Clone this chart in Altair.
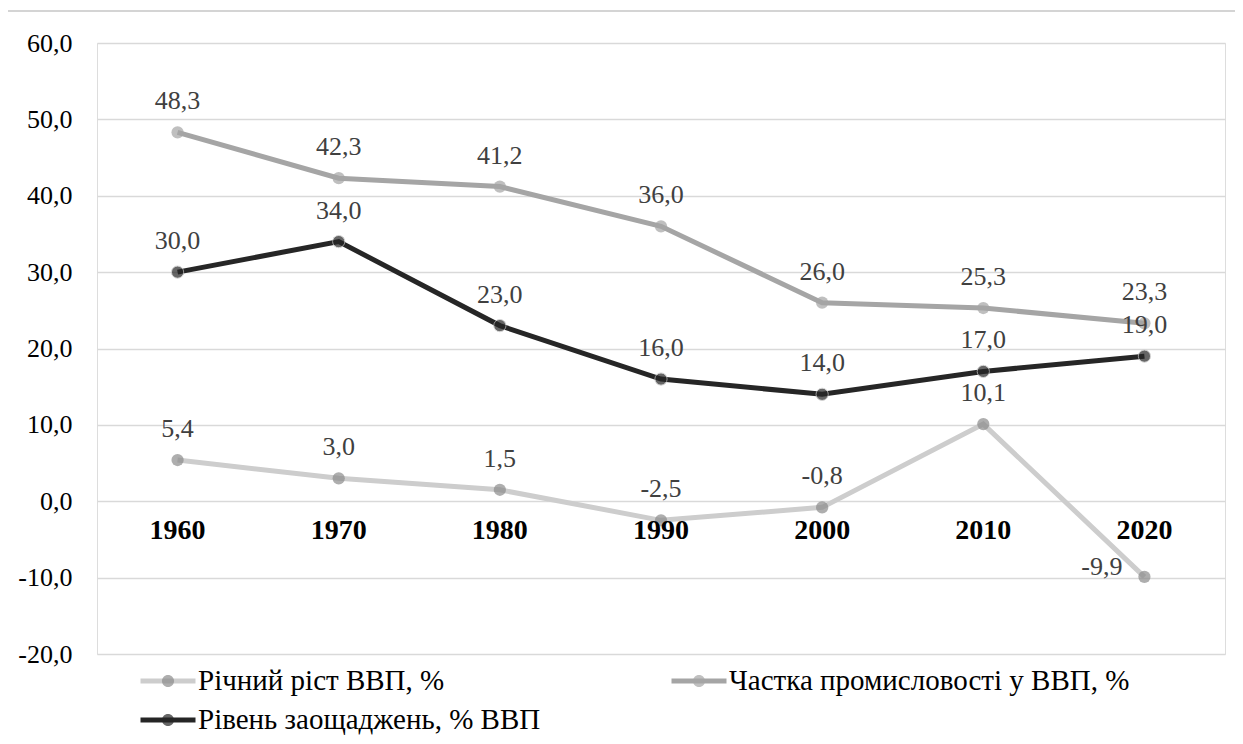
import altair as alt
import pandas as pd

years = ["1960", "1970", "1980", "1990", "2000", "2010", "2020"]
gdp_growth = [5.4, 3.0, 1.5, -2.5, -0.8, 10.1, -9.9]
industry_share = [48.3, 42.3, 41.2, 36.0, 26.0, 25.3, 23.3]
savings_rate = [30.0, 34.0, 23.0, 16.0, 14.0, 17.0, 19.0]
series_names = ["Річний ріст ВВП, %", "Частка промисловості у ВВП, %", "Рівень заощаджень, % ВВП"]
y_ticks = [-20, -10, 0, 10, 20, 30, 40, 50, 60]

line_colors = ["#cdcdcd", "#a5a5a5", "#262626"]
marker_colors = ["#8c8c8c", "#a5a5a5", "#262626"]

rows = []
for name, vals in zip(series_names, [gdp_growth, industry_share, savings_rate]):
    for yr, v in zip(years, vals):
        rows.append({"year": yr, "series": name, "series_m": name, "value": v})
df = pd.DataFrame(rows)
years_df = pd.DataFrame({"year": years})

FONT = "Liberation Serif"
W, H = 1128, 611
FMT = "replace(replace(format(datum.value, '.1f'), '.', ','), '\u2212', '-')"

xenc = alt.X("year:N", sort=years, scale=alt.Scale(type="point", padding=0.5), axis=None)
yenc = alt.Y(
    "value:Q",
    scale=alt.Scale(domain=[-20, 60], nice=False, zero=False),
    axis=alt.Axis(
        values=y_ticks, title=None, domain=False, ticks=False,
        labelExpr=FMT,
        labelFont=FONT, labelFontSize=26, labelColor="#000000", labelPadding=25,
        grid=True, gridColor="#d9d9d9", gridWidth=1.5,
    ),
)

base = alt.Chart(df)

frame = alt.Chart(years_df).mark_rect(
    fill="transparent", stroke="#d4d4d4", strokeWidth=2, clip=False
).encode(x=alt.value(-90), x2=alt.value(1400), y=alt.value(-32), y2=alt.value(1000))

line_symbol = "M-1,0L1,0"
circle_symbol = "M0.22,0A0.22,0.22,0,1,1,-0.22,0A0.22,0.22,0,1,1,0.22,0"

legend_common = dict(
    title=None, orient="none", direction="horizontal", legendX=41, legendY=622, columns=2,
    columnPadding=128, rowPadding=7, padding=0, symbolSize=3025, clipHeight=32,
    labelFont=FONT, labelFontSize=29, labelOffset=0,
    labelLimit=0,
)

lines = base.mark_line(strokeWidth=5).encode(
    x=xenc, y=yenc,
    color=alt.Color(
        "series:N", scale=alt.Scale(domain=series_names, range=line_colors),
        legend=alt.Legend(symbolType=line_symbol, symbolStrokeWidth=5,
                          labelColor="#000000", **legend_common),
    ),
)

points = base.mark_point(filled=True, size=150, strokeWidth=1, stroke="#c8c8c8").encode(
    x=xenc, y=yenc,
    fill=alt.Fill(
        "series_m:N", sort=series_names, scale=alt.Scale(range=marker_colors),
        legend=alt.Legend(symbolType=circle_symbol, symbolStrokeWidth=5,
                          symbolStrokeColor="transparent", labelOpacity=0,
                          labelColor="#000000", **legend_common),
    ),
    strokeOpacity=alt.condition(alt.datum.series == series_names[2], alt.value(1), alt.value(0)),
)

labels = base.transform_filter(
    ~((alt.datum.year == "2020") & (alt.datum.series == series_names[0]))
).transform_calculate(
    label=FMT
).mark_text(font=FONT, fontSize=26, color="#404040", dy=-31).encode(
    x=xenc, y=yenc, text="label:N"
)

label_side = base.transform_filter(
    (alt.datum.year == "2020") & (alt.datum.series == series_names[0])
).transform_calculate(
    label=FMT
).mark_text(font=FONT, fontSize=26, color="#404040", align="right", dx=-22, dy=-10).encode(
    x=xenc, y=yenc, text="label:N"
)

year_labels = alt.Chart(years_df).mark_text(
    font=FONT, fontSize=28, fontWeight="bold", color="#000000", dy=30
).encode(x=xenc, y=alt.datum(0), text="year:N")

chart = alt.layer(frame, lines, points, labels, label_side, year_labels).properties(
    width=W, height=H,
    autosize=alt.AutoSizeParams(type="none"),
    padding={"left": 89, "top": 35, "right": 10, "bottom": 82},
).resolve_scale(
    color="independent", fill="independent"
).resolve_legend(
    color="independent", fill="independent"
).configure_view(stroke=None).configure(background="white", font=FONT)

chart.save("out.html", embed_options={"renderer": "svg", "actions": False})
